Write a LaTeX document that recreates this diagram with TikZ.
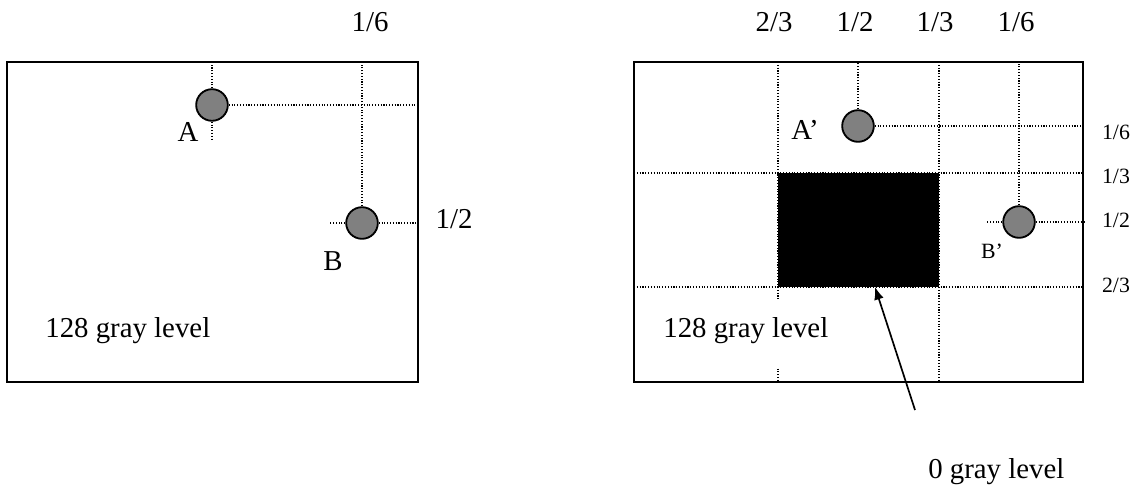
\documentclass[tikz,border=0pt]{standalone}
\usepackage{fontspec}
\setmainfont{Liberation Serif}
\usetikzlibrary{arrows.meta,fit}
\definecolor{dotgray}{RGB}{128,128,128}
\tikzset{
  panel/.style={draw, line width=1.2pt, inner sep=0pt},
  guide/.style={line width=0.9pt, dash pattern=on 0.8pt off 1.2pt},
  pixel/.style={circle, draw, line width=1.3pt, fill=dotgray, minimum size=22.5pt, inner sep=0pt},
  bigtxt/.style={font=\fontsize{20.5}{24}\selectfont, anchor=base, inner sep=0pt},
  smalltxt/.style={font=\fontsize{15.5}{18}\selectfont, anchor=base, inner sep=0pt},
  whitebox/.style={fill=white, text height=26pt, text depth=21pt, inner ysep=0pt, inner xsep=10pt},
}
\begin{document}
\begin{tikzpicture}[x=0.025cm, y=-0.025cm]
    \useasboundingbox (0,0) rectangle (1141,485);
    % Original image
    \node[panel, fit={(7,62) (418,382)}] (L) {};
    \node[pixel] (A) at (212,105) {};
    \node[pixel] (B) at (362,223) {};
    \draw[guide] (A.north) -- (A.north |- L.north);
    \draw[guide] (A.south) -- (212,139);
    \draw[guide] (A.east) -- (A.east -| L.east);
    \draw[guide] (B.north) -- (B.north |- L.north);
    \draw[guide] (B.west) -- (329,223);
    \draw[guide] (B.east) -- (B.east -| L.east);

    \node[bigtxt] (labA) at (188,141) {A};
    \node[bigtxt] (labB) at (333,270) {B};
    \node[bigtxt] (topL) at (370,32) {1/6};
    \node[bigtxt] (sideL) at (454,228) {1/2};
    \node[bigtxt, whitebox, anchor=base west] (grayL) at (31,337) {128 gray level};

    % Image with black region
    \node[panel, fit={(634,62) (1083,382)}] (R) {};
    \draw[guide] (778,62) -- (778,382);
    \draw[guide] (939,62) -- (939,382);
    \draw[guide] (634,173) -- (1083,173);
    \draw[guide] (634,287) -- (1083,287);
    \node[pixel] (Ap) at (858,126) {};
    \node[pixel] (Bp) at (1019,222) {};
    \draw[guide] (Ap.north) -- (Ap.north |- R.north);
    \draw[guide] (Ap.east) -- (Ap.east -| R.east);
    \draw[guide] (Bp.north) -- (Bp.north |- R.north);
    \draw[guide] (Bp.west) -- (987,222);
    \draw[guide] (Bp.east) -- (Bp.east -| R.east);
    \node[fill=black, inner sep=0pt, fit={(778,173) (939,287)}] (blk) {};

    \node[bigtxt] (labAp) at (805,140) {A’};
    \node[smalltxt] (labBp) at (992,258) {B’};
    \node[bigtxt] (top23) at (774,32) {2/3};
    \node[bigtxt] (top12) at (855,32) {1/2};
    \node[bigtxt] (top13) at (935,32) {1/3};
    \node[bigtxt] (top16) at (1016,32) {1/6};
    \node[smalltxt] (side16) at (1116,140) {1/6};
    \node[smalltxt] (side13) at (1116,183) {1/3};
    \node[smalltxt] (side12) at (1116,227) {1/2};
    \node[smalltxt] (side23) at (1116,292) {2/3};
    \node[bigtxt, whitebox, anchor=base west] (grayR) at (649,337) {128 gray level};

    % Pointer to the black region
    \node[bigtxt, anchor=base west] (zero) at (928,478) {0 gray level};
    \coordinate (tail) at (915,410);
    \coordinate (tip) at (875,287);
    \draw[line width=1.2pt, -{Latex[length=9pt,width=7pt]}] (tail) -- (tip);
\end{tikzpicture}
\end{document}
